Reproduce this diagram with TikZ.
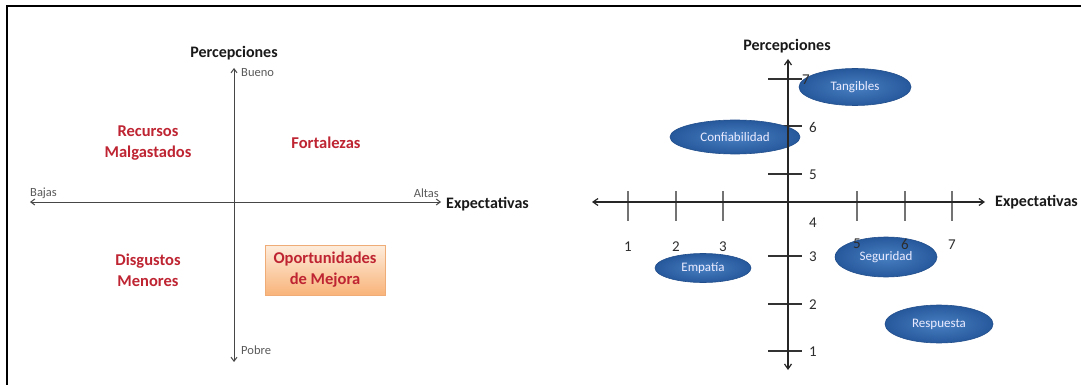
\documentclass[tikz,border=0pt]{standalone}
\usepackage{fontspec}
\setmainfont{Carlito}
\usetikzlibrary{arrows.meta,shapes.geometric}

\definecolor{quadred}{RGB}{190,36,50}
\definecolor{axisgray}{RGB}{70,70,70}
\definecolor{labelgray}{RGB}{90,90,90}
\definecolor{numgray}{RGB}{45,45,45}
\definecolor{bubblein}{RGB}{72,128,194}
\definecolor{bubbleout}{RGB}{38,88,156}
\definecolor{boxtop}{RGB}{253,236,220}
\definecolor{boxbot}{RGB}{249,180,122}
\definecolor{boxedge}{RGB}{240,172,118}

\tikzset{
  axisline/.style={draw=axisgray, line width=1pt},
  leftaxis/.style={axisline, {Straight Barb[length=4pt,width=6pt]}-{Straight Barb[length=4pt,width=6pt]}},
  rightaxis/.style={draw=black!85, line width=1.2pt, {Straight Barb[length=5pt,width=7pt]}-{Straight Barb[length=5pt,width=7pt]}},
  xtick/.style={draw=black!55, line width=1.2pt},
  ytick/.style={draw=black!80, line width=1.2pt},
  axistitle/.style={font=\fontsize{16}{18}\selectfont\bfseries, text=black!90, inner sep=0pt},
  endlabel/.style={font=\fontsize{12.5}{14}\selectfont, text=labelgray, inner sep=0pt},
  quadtext/.style={font=\fontsize{16.5}{21}\selectfont\bfseries, text=quadred, align=center, inner sep=0pt},
  oportbox/.style={quadtext, draw=boxedge, line width=0.8pt, top color=boxtop, bottom color=boxbot,
                   minimum width=120pt, minimum height=50pt},
  numlabel/.style={font=\fontsize{15}{17}\selectfont, text=numgray, inner sep=0pt},
  bubble/.style={ellipse, inner sep=0pt, draw=bubbleout!90!black, line width=0.6pt,
                 shading=radial, inner color=bubblein, outer color=bubbleout,
                 font=\fontsize{13}{15}\selectfont, text=white!92!blue},
}

\begin{document}
\begin{tikzpicture}[x=1pt,y=-1pt]
\useasboundingbox (0,0) rectangle (1081,385);
\fill[white] (0,0) rectangle (1081,385);

% outer frame
\draw[line width=2pt] (7,385) -- (7,6) -- (1081,6);

% ---------------- left quadrant chart ----------------
\coordinate (Ltop) at (234,68);
\coordinate (Lbot) at (234,362);
\coordinate (Lleft) at (30,202);
\coordinate (Lright) at (441,202);
\draw[leftaxis] (Lleft) -- (Lright);
\draw[leftaxis] (Lbot) -- (Ltop);

\node[axistitle] (lperc) at (234,53) {Percepciones};
\node[axistitle, anchor=west] (lexp) at (446,204) {Expectativas};
\node[endlabel, anchor=west] (bueno) at (241,73) {Bueno};
\node[endlabel, anchor=west] (pobre) at (241,350) {Pobre};
\node[endlabel, anchor=west] (bajas) at (30,193) {Bajas};
\node[endlabel, anchor=east] (altas) at (439,193) {Altas};

\node[quadtext] (recursos) at (148,143) {Recursos\\Malgastados};
\node[quadtext] (fortalezas) at (326,143) {Fortalezas};
\node[quadtext] (disgustos) at (148,270) {Disgustos\\Menores};
\node[oportbox] (oport) at (325,270) {Oportunidades\\de Mejora};

% ---------------- right scatter chart ----------------
\coordinate (Rtop) at (788,59);
\coordinate (Rbot) at (788,370);
\coordinate (Rleft) at (592,202);
\coordinate (Rright) at (985,202);

% tick marks
\foreach \x in {628,676,723,857,905,952}
  \draw[xtick] (\x,191) -- (\x,221);
\foreach \y in {79,126,174,256,304,351}
  \draw[ytick] (768,\y) -- (802,\y);

% dimension bubbles
\node[bubble, minimum width=112pt, minimum height=37pt] (tangibles) at (855,87) {Tangibles};
\node[bubble, minimum width=130pt, minimum height=34pt] (confiab) at (735,137) {Confiabilidad};
\node[bubble, minimum width=96pt, minimum height=29pt] (empatia) at (703,268) {Empatía};
\node[bubble, minimum width=102pt, minimum height=40pt] (seguridad) at (886,257) {Seguridad};
\node[bubble, minimum width=108pt, minimum height=38pt] (respuesta) at (939,324) {Respuesta};

% axes
\draw[rightaxis] (Rleft) -- (Rright);
\draw[rightaxis] (Rbot) -- (Rtop);

\node[axistitle] (rperc) at (787,46) {Percepciones};
\node[axistitle, anchor=west] (rexp) at (995,202) {Expectativas};

% axis numbers
\node[numlabel] (x1) at (628,247) {1};
\node[numlabel] (x2) at (676,247) {2};
\node[numlabel] (x3) at (723,247) {3};
\node[numlabel] (x5) at (857,244) {5};
\node[numlabel] (x6) at (905,244) {6};
\node[numlabel] (x7) at (952,245) {7};
\node[numlabel] (y7) at (806,80) {7};
\node[numlabel] (y6) at (813,127) {6};
\node[numlabel] (y5) at (813,175) {5};
\node[numlabel] (y4) at (813,223) {4};
\node[numlabel] (y3) at (813,257) {3};
\node[numlabel] (y2) at (813,305) {2};
\node[numlabel] (y1) at (813,352) {1};
\end{tikzpicture}
\end{document}
